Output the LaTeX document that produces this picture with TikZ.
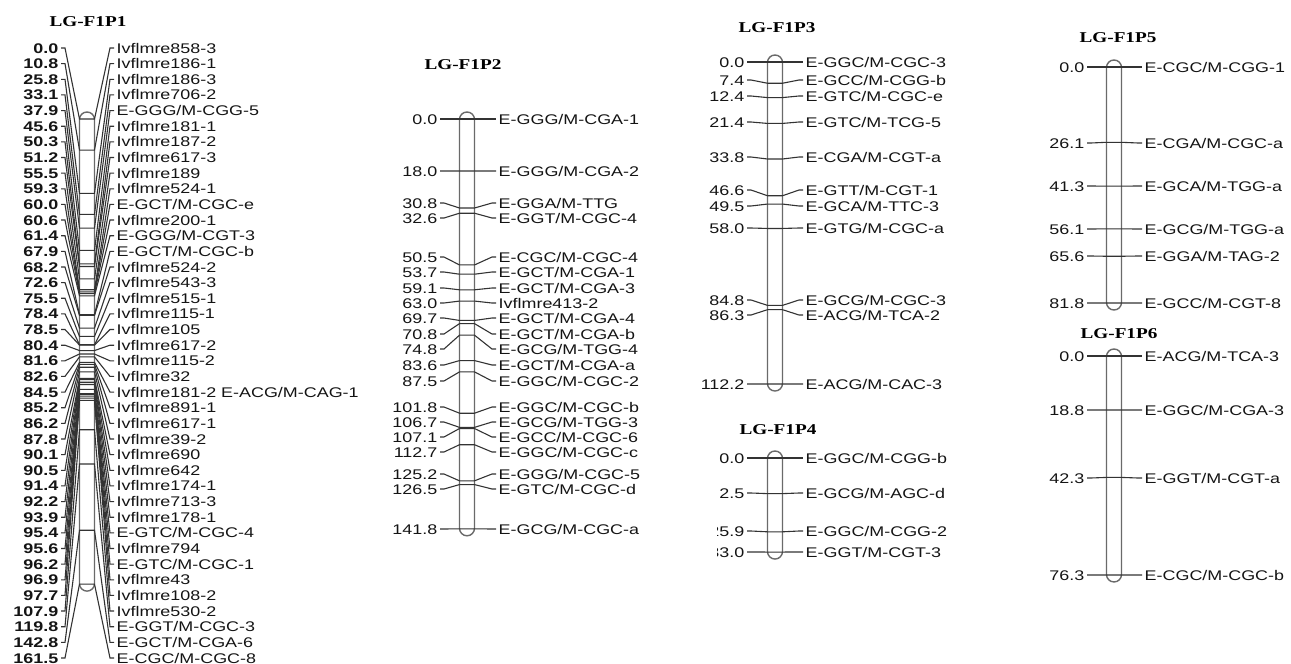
\documentclass[tikz,border=0pt]{standalone}
\usepackage{fontspec}
\setmainfont{Liberation Sans}[FakeStretch=1.28]
\newfontfamily\titlefont{Liberation Serif}[FakeStretch=1.28]
\usetikzlibrary{calc}
\definecolor{ink}{HTML}{141414}
\definecolor{barline}{HTML}{6A6A6A}
\definecolor{tickline}{HTML}{333333}

% #1 id, #2 bar centre, #3 tick start, #4 tick end, #5 top y, #6 px per cM, #7 last cM, #8 markers
\newcommand{\linkgroup}[8]{%
  \draw[chrom] (#2-7.5, #5-7) rectangle (#2+7.5, #5+#6*#7+7);
  \foreach \ly/\pos/\lab/\mk [count=\i] in {#8}{
    \node[num, anchor=east] (#1n\i) at (#3, \ly) {\lab};
    \node[markname, anchor=west] (#1m\i) at (#4, \ly) {\mk};
    \draw[tick] (#1n\i.east) -- ++(4,0) -- (#2-7.5, #5+#6*\pos) -- (#2+7.5, #5+#6*\pos)
      -- ($(#1m\i.west)+(-4,0)$) -- (#1m\i.west);
  }%
}

\begin{document}
\begin{tikzpicture}[x=1pt, y=-1pt,
    chrom/.style={draw=barline, line width=1.4pt, rounded corners=7.5pt, fill=white},
    tick/.style={draw=tickline, line width=1.1pt},
    num/.style={inner xsep=2.5pt, inner ysep=0pt, text height=10pt, text depth=0pt,
      text=ink, font=\fontsize{14}{16}\selectfont},
    markname/.style={inner xsep=2.5pt, inner ysep=0pt, text height=10pt, text depth=0pt,
      text=ink, font=\fontsize{14}{16}\selectfont},
    title/.style={inner sep=0pt, text=black, font=\titlefont\bfseries\fontsize{15}{17}\selectfont}]
  \useasboundingbox (0,0) rectangle (1291,664);

  \node[title] (t1) at (88,22) {LG-F1P1};
  \node[title] (t2) at (463,65) {LG-F1P2};
  \node[title] (t3) at (777,28) {LG-F1P3};
  \node[title] (t4) at (778,430) {LG-F1P4};
  \node[title] (t5) at (1118,38) {LG-F1P5};
  \node[title] (t6) at (1119,334) {LG-F1P6};

  \begin{scope}[num/.append style={font=\fontsize{14}{16}\selectfont\bfseries}]
    \linkgroup{a}{87}{61}{114}{119}{2.88}{161.5}{
      48/0.0/0.0/Ivflmre858-3, 63.6/10.8/10.8/Ivflmre186-1, 79.3/25.8/25.8/Ivflmre186-3,
      94.9/33.1/33.1/Ivflmre706-2, 110.6/37.9/37.9/{E-GGG/M-CGG-5}, 126.2/45.6/45.6/Ivflmre181-1,
      141.8/50.3/50.3/Ivflmre187-2, 157.5/51.2/51.2/Ivflmre617-3, 173.1/55.5/55.5/Ivflmre189,
      188.8/59.3/59.3/Ivflmre524-1, 204.4/60.0/60.0/{E-GCT/M-CGC-e}, 220.0/60.6/60.6/Ivflmre200-1,
      235.7/61.4/61.4/{E-GGG/M-CGT-3}, 251.3/67.9/67.9/{E-GCT/M-CGC-b}, 267.0/68.2/68.2/Ivflmre524-2,
      282.6/72.6/72.6/Ivflmre543-3, 298.2/75.5/75.5/Ivflmre515-1, 313.9/78.4/78.4/Ivflmre115-1,
      329.5/78.5/78.5/Ivflmre105, 345.2/80.4/80.4/Ivflmre617-2, 360.8/81.6/81.6/Ivflmre115-2,
      376.4/82.6/82.6/Ivflmre32, 392.1/84.5/84.5/{Ivflmre181-2 E-ACG/M-CAG-1}, 407.7/85.2/85.2/Ivflmre891-1,
      423.4/86.2/86.2/Ivflmre617-1, 439.0/87.8/87.8/Ivflmre39-2, 454.6/90.1/90.1/Ivflmre690,
      470.3/90.5/90.5/Ivflmre642, 485.9/91.4/91.4/Ivflmre174-1, 501.6/92.2/92.2/Ivflmre713-3,
      517.2/93.9/93.9/Ivflmre178-1, 532.8/95.4/95.4/{E-GTC/M-CGC-4}, 548.5/95.6/95.6/Ivflmre794,
      564.1/96.2/96.2/{E-GTC/M-CGC-1}, 579.8/96.9/96.9/Ivflmre43, 595.4/97.7/97.7/Ivflmre108-2,
      611.0/107.9/107.9/Ivflmre530-2, 626.7/119.8/119.8/{E-GGT/M-CGC-3}, 642.3/142.8/142.8/{E-GCT/M-CGA-6},
      658.0/161.5/161.5/{E-CGC/M-CGC-8}}
  \end{scope}

  \linkgroup{b}{467}{440}{496}{119}{2.89}{141.8}{
    119/0.0/0.0/{E-GGG/M-CGA-1}, 171/18.0/18.0/{E-GGG/M-CGA-2}, 203/30.8/30.8/{E-GGA/M-TTG},
    218/32.6/32.6/{E-GGT/M-CGC-4}, 257/50.5/50.5/{E-CGC/M-CGC-4}, 272/53.7/53.7/{E-GCT/M-CGA-1},
    288/59.1/59.1/{E-GCT/M-CGA-3}, 303/63.0/63.0/Ivflmre413-2, 318/69.7/69.7/{E-GCT/M-CGA-4},
    334/70.8/70.8/{E-GCT/M-CGA-b}, 349/74.8/74.8/{E-GCG/M-TGG-4}, 365/83.6/83.6/{E-GCT/M-CGA-a},
    381/87.5/87.5/{E-GGC/M-CGC-2}, 407/101.8/101.8/{E-GGC/M-CGC-b}, 422/106.7/106.7/{E-GCG/M-TGG-3},
    437/107.1/107.1/{E-GCC/M-CGC-6}, 452/112.7/112.7/{E-GGC/M-CGC-c}, 474/125.2/125.2/{E-GGG/M-CGC-5},
    489/126.5/126.5/{E-GTC/M-CGC-d}, 529/141.8/141.8/{E-GCG/M-CGC-a}}

  \linkgroup{c}{775}{747}{803}{62}{2.87}{112.2}{
    62/0.0/0.0/{E-GGC/M-CGC-3}, 80/7.4/7.4/{E-GCC/M-CGG-b}, 96/12.4/12.4/{E-GTC/M-CGC-e},
    122/21.4/21.4/{E-GTC/M-TCG-5}, 157/33.8/33.8/{E-CGA/M-CGT-a}, 190/46.6/46.6/{E-GTT/M-CGT-1},
    206/49.5/49.5/{E-GCA/M-TTC-3}, 228/58.0/58.0/{E-GTG/M-CGC-a}, 300/84.8/84.8/{E-GCG/M-CGC-3},
    315/86.3/86.3/{E-ACG/M-TCA-2}, 384/112.2/112.2/{E-ACG/M-CAC-3}}

  \begin{scope}
    \clip (717.6,440) rectangle (1000,575);
    \linkgroup{d}{775}{747}{803}{458}{2.85}{33.0}{
      458/0.0/0.0/{E-GGC/M-CGG-b}, 493/12.5/{\phantom{1}2.5}/{E-GCG/M-AGC-d},
      531/25.9/25.9/{E-GGC/M-CGG-2}, 552/33.0/33.0/{E-GGT/M-CGT-3}}
  \end{scope}

  \linkgroup{e}{1114}{1087}{1142}{67}{2.885}{81.8}{
    67/0.0/0.0/{E-CGC/M-CGG-1}, 143/26.1/26.1/{E-CGA/M-CGC-a}, 186/41.3/41.3/{E-GCA/M-TGG-a},
    229/56.1/56.1/{E-GCG/M-TGG-a}, 256/65.6/65.6/{E-GGA/M-TAG-2}, 303/81.8/81.8/{E-GCC/M-CGT-8}}

  \linkgroup{f}{1114}{1087}{1142}{356}{2.87}{76.3}{
    356/0.0/0.0/{E-ACG/M-TCA-3}, 410/18.8/18.8/{E-GGC/M-CGA-3},
    478/42.3/42.3/{E-GGT/M-CGT-a}, 575/76.3/76.3/{E-CGC/M-CGC-b}}
\end{tikzpicture}
\end{document}
